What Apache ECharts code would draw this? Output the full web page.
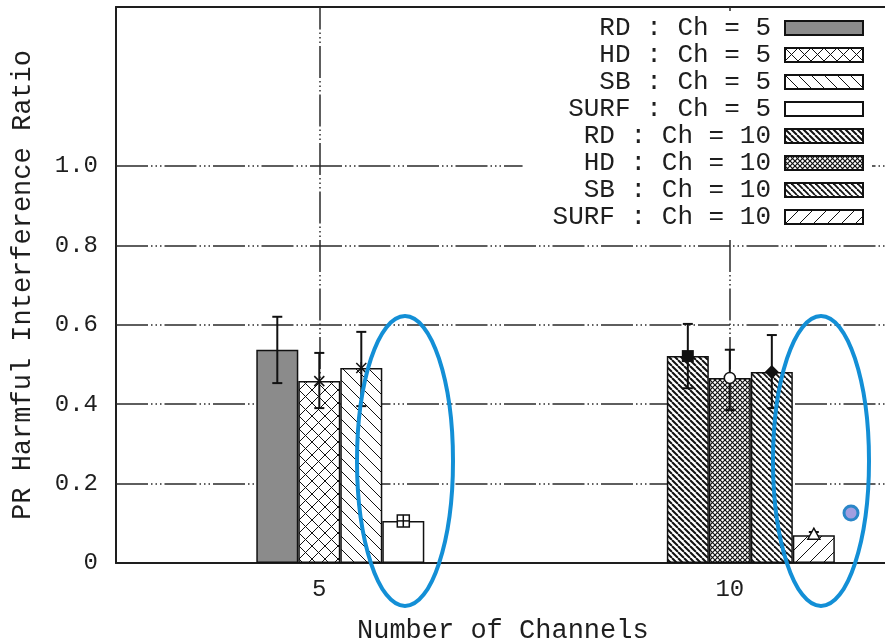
<!DOCTYPE html>
<html>
<head>
<meta charset="utf-8">
<script src="https://cdn.jsdelivr.net/npm/echarts@6/dist/echarts.min.js"></script>
<style>
  html, body { margin: 0; padding: 0; background: #fff; }
  #chart { width: 885px; height: 642px; }
</style>
</head>
<body>
<div id="chart"></div>
<script>
const channels = [5, 10];
const methods = ['RD', 'HD', 'SB', 'SURF'];
const yTicks = [0, 0.2, 0.4, 0.6, 0.8, 1.0];

// mean / lower / upper of the error bars
const meanCh5 = [0.537, 0.458, 0.491, 0.106];
const lowCh5 = [0.453, 0.390, 0.395, 0.100];
const highCh5 = [0.620, 0.529, 0.582, 0.113];
const meanCh10 = [0.521, 0.466, 0.481, 0.070];
const lowCh10 = [0.440, 0.385, 0.390, 0.064];
const highCh10 = [0.602, 0.537, 0.574, 0.078];

const FONT = 'Liberation Mono';
const INK = '#1e1e1e';
const BAR_W = 42;

function tile(size, draw) {
  const c = document.createElement('canvas');
  c.width = size;
  c.height = size;
  const ctx = c.getContext('2d');
  ctx.fillStyle = '#fff';
  ctx.fillRect(0, 0, size, size);
  ctx.strokeStyle = '#111';
  draw(ctx, size);
  return { image: c, repeat: 'repeat' };
}
function back(ctx, s, w) { // "\" lines
  ctx.lineWidth = w;
  for (let k = -1; k <= 1; k++) {
    ctx.beginPath(); ctx.moveTo(k * s, 0); ctx.lineTo(k * s + s, s); ctx.stroke();
  }
}
function fwd(ctx, s, w) { // "/" lines
  ctx.lineWidth = w;
  for (let k = -1; k <= 1; k++) {
    ctx.beginPath(); ctx.moveTo(k * s, s); ctx.lineTo(k * s + s, 0); ctx.stroke();
  }
}

const fills = {
  'RD5': '#8b8b8b',
  'HD5': tile(13, (c, s) => { back(c, s, 1); fwd(c, s, 1); }),
  'SB5': tile(13, (c, s) => back(c, s, 1)),
  'SURF5': '#ffffff',
  'RD10': tile(6, (c, s) => back(c, s, 2)),
  'HD10': tile(5, (c, s) => { back(c, s, 1.2); fwd(c, s, 1.2); }),
  'SB10': tile(6, (c, s) => back(c, s, 1.8)),
  'SURF10': tile(14, (c, s) => fwd(c, s, 1))
};
const markers = {
  'RD5': 'none', 'HD5': 'cross', 'SB5': 'star', 'SURF5': 'boxplus',
  'RD10': 'square', 'HD10': 'circle', 'SB10': 'diamond', 'SURF10': 'triangle'
};

function markerShapes(kind, x, y) {
  const ln = { stroke: '#111', lineWidth: 1.5 };
  const L = (x1, y1, x2, y2) => ({ type: 'line', shape: { x1, y1, x2, y2 }, style: ln });
  switch (kind) {
    case 'cross': return [L(x - 5, y - 5, x + 5, y + 5), L(x - 5, y + 5, x + 5, y - 5)];
    case 'star': return [L(x - 5, y - 5, x + 5, y + 5), L(x - 5, y + 5, x + 5, y - 5), L(x, y - 6, x, y + 6)];
    case 'boxplus': return [
      { type: 'rect', shape: { x: x - 6, y: y - 6, width: 12, height: 12 }, style: { fill: '#fff', stroke: '#111', lineWidth: 1.5 } },
      L(x - 6, y, x + 6, y), L(x, y - 6, x, y + 6)];
    case 'square': return [{ type: 'rect', shape: { x: x - 6, y: y - 6, width: 12, height: 12 }, style: { fill: '#111' } }];
    case 'circle': return [{ type: 'circle', shape: { cx: x, cy: y, r: 5.5 }, style: { fill: '#fff', stroke: '#111', lineWidth: 1.5 } }];
    case 'diamond': return [{ type: 'polygon', shape: { points: [[x, y - 7], [x + 7, y], [x, y + 7], [x - 7, y]] }, style: { fill: '#111' } }];
    case 'triangle': return [{ type: 'polygon', shape: { points: [[x, y - 7], [x + 6, y + 4], [x - 6, y + 4]] }, style: { fill: '#fff', stroke: '#111', lineWidth: 1.5 } }];
    default: return [];
  }
}

// slot 0 is an empty bar so that the HD bar (slot 2) sits on the tick
function errorRender(slot, kind) {
  return function (params, api) {
    const xv = api.value(0);
    const mid = api.coord([xv, api.value(1)]);
    const x = mid[0] + (slot - 2) * BAR_W;
    const yLow = api.coord([xv, api.value(2)])[1];
    const yHigh = api.coord([xv, api.value(3)])[1];
    const st = { stroke: '#111', lineWidth: 2 };
    const children = [
      { type: 'line', shape: { x1: x, y1: yHigh, x2: x, y2: yLow }, style: st },
      { type: 'line', shape: { x1: x - 5, y1: yHigh, x2: x + 5, y2: yHigh }, style: st },
      { type: 'line', shape: { x1: x - 5, y1: yLow, x2: x + 5, y2: yLow }, style: st }
    ].concat(markerShapes(kind, x, mid[1]));
    return { type: 'group', children: children };
  };
}

const gridDash = [32, 3, 1.5, 3, 1.5, 3, 1.5, 3];
const names = [];
const barSeries = [{
  name: 'pad', type: 'bar', stack: 'pad', barWidth: BAR_W, barGap: '0%',
  data: channels.map(c => [c, '-'])
}];
const errSeries = [];
const groups = [
  { ch: 5, mean: meanCh5, low: lowCh5, high: highCh5 },
  { ch: 10, mean: meanCh10, low: lowCh10, high: highCh10 }
];
groups.forEach(g => {
  methods.forEach((m, i) => {
    const key = m + g.ch;
    const name = m + ' : Ch = ' + g.ch;
    names.push(name);
    barSeries.push({
      name: name, type: 'bar', stack: m, barWidth: BAR_W, barGap: '0%', z: 2,
      itemStyle: { color: fills[key], borderColor: '#111', borderWidth: 1.5 },
      data: channels.map(c => [c, c === g.ch ? g.mean[i] : '-'])
    });
    errSeries.push({
      name: name, type: 'custom', z: 3,
      renderItem: errorRender(i + 1, markers[key]),
      encode: { x: 0, y: [1, 2, 3] },
      data: [[g.ch, g.mean[i], g.low[i], g.high[i]]]
    });
  });
});

const gridSeries = {
  name: 'grid', type: 'line', data: [], silent: true,
  markLine: {
    z: 1, silent: true, symbol: 'none', label: { show: false },
    lineStyle: { color: '#2a2a2a', width: 1.5, type: gridDash },
    data: yTicks.filter(v => v > 0).map(v => ({ yAxis: v }))
      .concat(channels.map(c => ({ xAxis: c })))
  }
};

const X_MIN = 2.524, X_MAX = 11.89;

const chart = echarts.init(document.getElementById('chart'));
chart.setOption({
  animation: false,
  backgroundColor: '#fff',
  grid: { left: 116, right: 0, top: 7, bottom: 79 },
  legend: {
    data: names, orient: 'vertical', align: 'right', right: 13, top: 11,
    icon: 'rect', itemWidth: 78, itemHeight: 14, itemGap: 1,
    selectedMode: false, backgroundColor: '#fff', padding: [4, 8, 8, 30],
    textStyle: { fontFamily: FONT, fontSize: 26, color: INK, padding: [0, 9, 0, 0] }
  },
  xAxis: [{
    type: 'value', min: X_MIN, max: X_MAX,
    splitLine: { show: false },
    axisLine: { lineStyle: { color: INK, width: 2 } },
    axisTick: { show: false },
    axisLabel: {
      fontFamily: FONT, fontSize: 24, color: INK, margin: 15,
      customValues: channels,
      formatter: v => (channels.some(c => Math.abs(c - v) < 1e-6) ? String(Math.round(v)) : '')
    }
  }, {
    type: 'value', min: X_MIN, max: X_MAX, position: 'top',
    splitLine: { show: false },
    axisLine: { show: true, lineStyle: { color: INK, width: 2 } },
    axisTick: { show: false }, axisLabel: { show: false }
  }],
  yAxis: {
    type: 'value', min: 0, max: 1.4, interval: 0.2,
    name: 'PR Harmful Interference Ratio', nameLocation: 'middle', nameGap: 80,
    nameTextStyle: { fontFamily: FONT, fontSize: 27, color: INK },
    axisLine: { show: true, lineStyle: { color: INK, width: 2 } },
    axisTick: { show: false },
    splitLine: { show: false },
    axisLabel: {
      fontFamily: FONT, fontSize: 24, color: INK, margin: 18,
      formatter: v => {
        const t = yTicks.find(y => Math.abs(y - v) < 1e-6);
        if (t === undefined) return '';
        return t === 0 ? '0' : t.toFixed(1);
      }
    }
  },
  series: [gridSeries].concat(barSeries, errSeries),
  graphic: [
    { type: 'text', left: 357, top: 617, z: 50,
      style: { text: 'Number of Channels', font: '27px "' + FONT + '"', fill: INK } },
    { type: 'ellipse', z: 100, silent: true,
      shape: { cx: 405, cy: 461, rx: 48, ry: 145 },
      style: { fill: 'none', stroke: '#138fd6', lineWidth: 4 } },
    { type: 'ellipse', z: 100, silent: true,
      shape: { cx: 821, cy: 461, rx: 48, ry: 145 },
      style: { fill: 'none', stroke: '#138fd6', lineWidth: 4 } },
    { type: 'circle', z: 100, silent: true,
      shape: { cx: 851, cy: 513, r: 7 },
      style: { fill: '#a29ee0', stroke: '#2a86c8', lineWidth: 3 } }
  ]
});
</script>
</body>
</html>
